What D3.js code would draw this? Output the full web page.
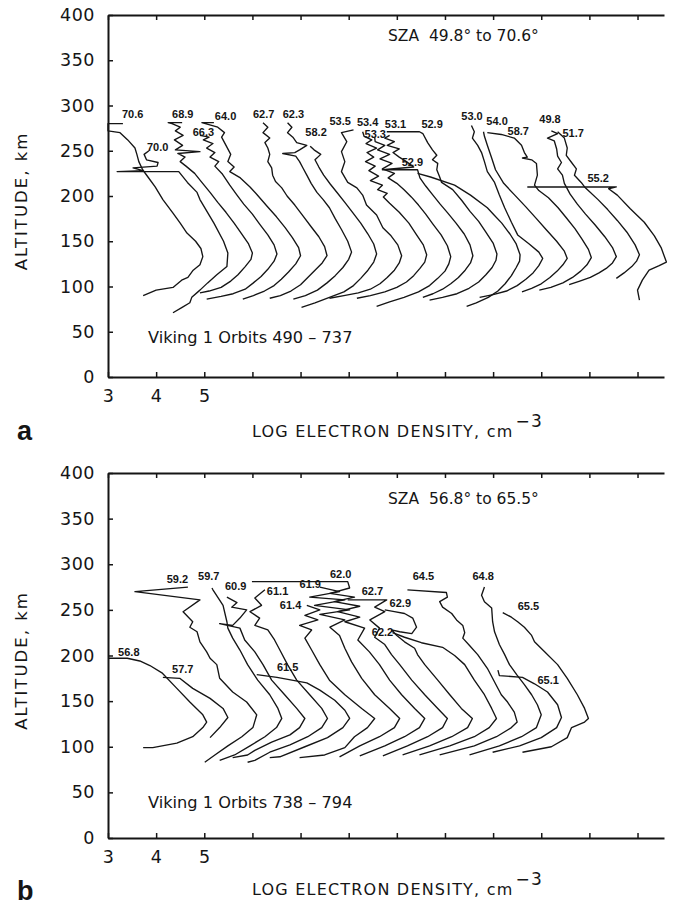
<!DOCTYPE html>
<html>
<head>
<meta charset="utf-8">
<script src="https://cdn.jsdelivr.net/npm/d3@7"></script>
<style>
  html, body { margin: 0; background: #fff; }
  svg { display: block; }
  text { fill: #151515; }
</style>
</head>
<body>
<svg id="fig" width="675" height="907"></svg>
<script>
// ---------- axes ----------
const xTicks = [3, 4, 5, 6, 7, 8, 9, 10, 11, 12, 13, 14];
const xTickLabels = { 3: "3", 4: "4", 5: "5" };
const altTicks = [0, 50, 100, 150, 200, 250, 300, 350, 400];

// ---------- panel a: Viking 1 orbits 490 - 737 ----------
// Each profile: [log10 electron density (cm^-3), altitude (km)], bottom to top.
// Successive profiles are shifted right by offsetsA (decades) for display.
const szaA = ["70.6", "70.0", "68.9", "66.3", "64.0", "62.7", "62.3", "58.2", "53.5", "53.4",
              "53.3", "53.1", "52.9", "52.9", "53.0", "54.0", "58.7", "49.8", "51.7", "55.2"];
const offsetsA = [0, 0.5, 1, 1.5, 2, 2.5, 3, 3.5, 4, 4.5, 5, 5.5, 6, 6.5, 7, 7.5, 8, 8.5, 9, 9.5];
const profilesA = [
  [[3.73,90],[4.0,96],[4.35,99],[4.53,107],[4.66,110],[4.77,118],[4.91,124],[4.97,133],[4.93,142],[4.82,150],[4.64,159],[4.5,170],[4.35,181],[4.14,196],[3.98,210],[3.83,221],[3.72,229],[3.64,238],[3.6,246],[3.56,253],[3.41,262],[3.25,270],[3.0,272],[3.0,280],[3.31,280]],
  [[3.85,71],[4.04,77],[4.2,82],[4.24,88],[4.41,96],[4.57,104],[4.76,113],[4.97,122],[4.99,137],[4.9,150],[4.7,170],[4.41,196],[4.35,204],[4.15,215],[3.97,227],[2.69,227],[3.23,228],[3.02,231],[3.52,233],[3.54,237],[3.3,240],[3.25,246],[3.35,250]],
  [[3.91,93],[4.1,95],[4.35,99],[4.55,106],[4.7,113],[4.85,122],[4.97,130],[5.0,137],[4.92,147],[4.78,158],[4.62,170],[4.45,182],[4.28,193],[4.12,204],[3.95,215],[3.8,225],[3.62,233],[3.5,238],[3.6,243],[3.45,247],[3.91,249],[3.4,251],[3.55,256],[3.38,262],[3.56,267],[3.4,272],[3.5,276],[3.33,280],[3.25,281],[3.54,281]],
  [[3.55,86],[3.85,89],[4.1,92],[4.35,97],[4.52,104],[4.68,111],[4.82,119],[4.95,128],[5.01,136],[4.95,146],[4.82,157],[4.65,169],[4.5,180],[4.32,191],[4.18,201],[4.03,212],[3.88,224],[3.72,233],[3.8,238],[3.62,243],[3.72,248],[3.55,253],[3.68,258],[3.48,262],[3.6,265],[3.41,267]],
  [[3.8,86],[4.02,90],[4.25,95],[4.45,101],[4.6,108],[4.75,116],[4.9,125],[5.0,134],[4.96,143],[4.83,154],[4.68,165],[4.5,177],[4.3,189],[4.12,200],[3.95,210],[3.75,220],[3.53,227],[3.62,232],[3.49,238],[3.55,246],[3.47,254],[3.36,265],[3.42,270],[3.28,276],[2.95,281],[3.2,281]],
  [[3.86,87],[4.08,90],[4.3,95],[4.5,102],[4.65,110],[4.8,118],[4.95,126],[5.05,134],[5.0,144],[4.88,155],[4.72,166],[4.55,178],[4.38,190],[4.22,200],[4.11,209],[3.98,216],[3.92,223],[3.9,231],[3.82,238],[3.86,246],[3.82,253],[3.76,259],[3.86,264],[3.72,270],[3.82,276],[3.72,281]],
  [[3.85,86],[4.1,90],[4.35,96],[4.55,104],[4.72,112],[4.88,121],[5.0,130],[5.06,138],[4.98,150],[4.85,163],[4.72,175],[4.6,187],[4.47,196],[4.34,204],[4.22,214],[4.13,223],[4.05,231],[3.98,238],[3.9,244],[3.63,247],[3.88,248],[3.98,251],[4.13,256],[3.92,259],[3.84,265],[3.73,270],[3.82,276],[3.73,281]],
  [[3.52,77],[3.8,82],[4.1,88],[4.4,94],[4.6,101],[4.75,109],[4.9,118],[5.02,127],[5.08,136],[5.02,147],[4.9,158],[4.75,170],[4.58,182],[4.42,193],[4.27,203],[4.12,213],[3.98,223],[3.88,232],[3.8,240],[3.92,246],[3.78,251],[3.7,255]],
  [[3.6,87],[3.9,90],[4.2,93],[4.45,97],[4.65,103],[4.8,110],[4.95,118],[5.05,126],[5.1,134],[5.02,146],[4.88,156],[4.71,165],[4.58,179],[4.37,190],[4.29,201],[4.17,209],[3.98,215],[3.85,227],[3.92,238],[3.85,249],[3.96,260],[3.85,270],[4.1,273]],
  [[3.67,87],[3.95,90],[4.25,94],[4.5,99],[4.7,105],[4.85,112],[4.98,120],[5.08,127],[5.12,135],[5.05,146],[4.9,158],[4.75,170],[4.55,182],[4.35,192],[4.22,199],[4.3,203],[4.1,207],[4.2,212],[3.95,217],[4.12,222],[3.92,228],[4.05,233],[3.85,238],[4.02,243],[3.88,248],[4.08,253],[3.86,258],[3.98,262],[3.82,266],[3.79,271]],
  [[3.58,78],[3.85,83],[4.15,88],[4.45,94],[4.68,101],[4.85,109],[5.0,117],[5.08,125],[5.12,133],[5.05,145],[4.92,157],[4.75,169],[4.6,180],[4.45,190],[4.3,199],[4.15,207],[4.0,214],[3.82,220],[3.95,225],[3.7,230],[3.9,236],[3.65,241],[3.85,246],[3.6,251],[3.75,256],[3.55,260],[3.54,265]],
  [[4.04,88],[4.25,92],[4.45,97],[4.62,103],[4.78,110],[4.92,118],[5.03,126],[5.08,134],[5.02,146],[4.9,158],[4.73,170],[4.56,181],[4.4,191],[4.25,201],[4.1,211],[3.98,220],[3.93,229],[3.2,229],[3.85,232],[3.7,238],[3.55,243],[3.42,248],[3.55,252],[3.3,256],[3.45,260],[3.25,264],[3.35,267]],
  [[3.68,85],[3.95,88],[4.25,92],[4.5,98],[4.7,105],[4.85,113],[4.98,121],[5.06,129],[5.08,136],[5.0,148],[4.85,160],[4.7,172],[4.52,183],[4.35,195],[4.16,207],[3.93,215],[3.89,221],[3.83,229],[3.85,236],[3.74,240],[3.83,245],[3.74,251],[3.64,259],[3.54,269],[3.47,271],[2.79,271]],
  [[3.95,78],[4.15,82],[4.4,88],[4.6,95],[4.75,103],[4.88,112],[4.98,121],[5.05,128],[5.06,135],[4.98,147],[4.85,158],[4.68,170],[4.52,179],[4.38,187],[4.03,201],[3.7,212],[3.2,221],[2.93,225]],
  [[3.72,88],[4.0,91],[4.28,95],[4.5,101],[4.68,108],[4.83,115],[4.95,123],[5.03,131],[4.95,138],[4.75,147],[4.51,157],[4.38,171],[4.24,187],[4.13,201],[4.03,215],[3.88,227],[3.82,238],[3.76,248],[3.68,256],[3.57,264],[3.61,271],[3.55,278]],
  [[4.1,94],[4.3,98],[4.5,103],[4.68,110],[4.83,117],[4.95,124],[5.04,131],[4.98,139],[4.82,150],[4.6,163],[4.4,175],[4.18,188],[3.95,201],[3.72,214],[3.55,229],[3.47,242],[3.38,256],[3.32,266],[3.3,271]],
  [[3.96,96],[4.2,99],[4.45,104],[4.65,110],[4.82,117],[4.95,124],[5.04,132],[4.98,141],[4.85,152],[4.7,164],[4.52,176],[4.35,187],[4.15,198],[3.95,206],[3.86,212],[3.92,223],[3.9,236],[3.8,240],[3.61,242],[3.71,243],[3.65,248],[3.59,256],[3.44,264],[3.17,268],[2.88,270]],
  [[4.08,102],[4.3,106],[4.52,110],[4.7,115],[4.85,120],[4.98,126],[5.06,133],[4.98,143],[4.82,155],[4.62,168],[4.42,180],[4.25,191],[4.1,202],[3.98,214],[3.94,223],[3.84,230],[3.92,237],[3.84,244],[3.82,252],[3.77,261],[3.63,264],[3.84,269],[3.71,272]],
  [[4.56,109],[4.72,115],[4.88,122],[4.98,128],[5.04,135],[4.95,146],[4.78,160],[4.58,173],[4.38,185],[4.18,196],[4.0,205],[3.9,210],[3.83,215],[3.69,223],[3.73,230],[3.63,237],[3.52,245],[3.54,253],[3.48,264],[3.34,271]],
  [[4.54,85],[4.5,96],[4.6,107],[4.74,118],[4.95,123],[5.1,127],[4.99,143],[4.85,156],[4.64,171],[4.35,186],[4.08,201],[3.9,208],[4.06,210],[2.21,210]]
];
// label anchors: [displayed log density, altitude] of each label's lower-left corner
const labelPosA = [[3.29,286],[3.81,250],[4.33,286],[4.76,266],[5.22,284],[6.01,286],[6.63,286],[7.1,266],[7.6,279],[8.17,277],
                   [8.33,264],[8.75,275],[9.51,275],[9.1,233],[10.34,284],[10.86,278],[11.3,267],[11.96,281],[12.44,265],[12.96,215]];

// ---------- panel b: Viking 1 orbits 738 - 794 ----------
const szaB = ["56.8", "57.7", "59.2", "59.7", "60.9", "61.1", "61.5", "61.4", "61.9",
              "62.0", "62.7", "62.9", "62.2", "64.5", "64.8", "65.1", "65.5"];
const offsetsB = [0, 0.5, 1, 1.5, 2, 2.5, 3, 3.5, 4, 4.5, 5, 5.5, 6, 6.5, 7, 7.5, 8];
const profilesB = [
  [[3.73,99],[3.93,99],[4.43,104],[4.76,111],[4.97,121],[5.05,127],[4.97,135],[4.7,149],[4.43,164],[4.12,181],[3.87,189],[3.66,194],[3.4,197],[3.0,197]],
  [[4.62,110],[4.82,121],[4.99,132],[4.89,142],[4.62,153],[4.26,164],[3.99,175],[3.64,176]],
  [[4.01,83],[4.22,91],[4.49,101],[4.78,111],[5.01,121],[5.09,135],[4.88,149],[4.59,160],[4.32,175],[4.26,190],[4.12,197],[4.05,204],[3.91,215],[3.85,226],[3.7,231],[3.76,237],[3.56,248],[3.91,261],[2.56,270],[3.66,275]],
  [[3.82,85],[4.13,91],[4.45,101],[4.76,111],[5.0,121],[5.11,131],[5.03,142],[4.86,157],[4.61,173],[4.4,190],[4.24,206],[4.09,219],[3.99,230],[3.97,237],[3.89,255],[3.68,272],[3.66,274]],
  [[3.59,88],[3.9,91],[4.05,96],[4.4,105],[4.78,113],[4.98,121],[5.09,131],[4.92,142],[4.67,157],[4.4,173],[4.22,190],[4.05,204],[3.84,217],[3.74,230],[3.32,235],[3.59,233],[3.74,241],[3.88,250],[3.57,253],[3.68,258],[3.47,264]],
  [[3.4,83],[3.55,85],[3.86,94],[4.28,102],[4.65,111],[4.94,121],[5.06,131],[4.94,142],[4.69,157],[4.42,173],[4.23,190],[4.07,206],[3.96,217],[3.82,228],[3.55,233],[3.65,241],[3.45,248],[3.69,255],[3.55,263],[3.76,272]],
  [[3.36,88],[3.57,89],[4.09,100],[4.56,110],[4.88,121],[5.02,131],[4.92,140],[4.71,151],[4.4,162],[4.13,170],[3.51,176],[3.09,179]],
  [[3.48,88],[4.0,91],[4.42,99],[4.62,111],[4.89,121],[5.04,131],[4.77,142],[4.42,157],[4.1,173],[3.9,190],[3.73,206],[3.59,219],[3.73,228],[3.48,233],[3.86,239],[3.59,244],[3.9,250],[3.63,255]],
  [[3.81,89],[4.23,101],[4.64,111],[4.95,121],[5.06,131],[4.85,142],[4.54,157],[4.27,175],[4.06,193],[3.92,208],[3.81,222],[3.61,231],[3.92,239],[3.4,245],[4.02,250],[3.29,255],[3.92,261],[3.19,264],[3.81,270],[3.4,275]],
  [[3.73,90],[4.25,101],[4.66,111],[4.97,121],[5.08,131],[4.87,142],[4.6,157],[4.35,173],[4.14,190],[3.93,204],[3.69,217],[3.83,230],[3.42,237],[3.73,242],[3.27,248],[3.73,254],[3.2,259],[3.62,264],[3.11,268],[3.52,274],[3.48,281],[1.49,281]],
  [[3.71,90],[4.22,101],[4.64,111],[4.95,121],[5.05,131],[4.85,142],[4.58,157],[4.31,173],[4.06,190],[3.89,201],[3.75,212],[3.54,220],[3.64,230],[3.44,239],[3.75,248],[3.54,253],[3.79,261],[2.98,261]],
  [[3.62,91],[4.18,101],[4.64,111],[4.97,121],[5.07,131],[4.84,142],[4.6,157],[4.35,173],[4.08,190],[3.93,201],[3.87,208],[3.66,215],[3.5,222],[3.39,228],[3.56,226],[3.81,224],[3.91,231],[3.83,241],[3.66,246],[3.45,248],[3.25,250]],
  [[3.47,91],[4.1,101],[4.61,111],[4.92,121],[5.07,131],[4.97,142],[4.82,157],[4.61,173],[4.41,190],[4.2,200],[3.95,209],[3.51,214],[3.16,220],[2.91,225]],
  [[3.39,91],[4.11,101],[4.57,111],[4.88,121],[5.0,127],[4.94,138],[4.8,149],[4.67,157],[4.53,171],[4.38,186],[4.18,201],[4.01,211],[3.87,219],[3.91,225],[3.87,233],[3.74,239],[3.64,246],[3.45,253],[3.39,259],[3.55,264],[3.53,269],[2.72,272]],
  [[3.51,91],[4.13,101],[4.59,111],[4.9,121],[5.0,135],[4.92,146],[4.8,157],[4.65,168],[4.49,179],[4.34,190],[4.24,201],[4.13,212],[4.03,226],[3.99,237],[3.97,252],[3.82,259],[3.76,266],[3.82,275]],
  [[3.49,94],[4.05,101],[4.5,110],[4.82,121],[4.92,132],[4.84,146],[4.63,160],[4.36,169],[4.11,176],[3.63,178],[3.6,184]],
  [[3.61,94],[4.21,100],[4.54,110],[4.63,121],[4.9,127],[4.98,131],[4.9,142],[4.75,157],[4.54,175],[4.34,190],[4.07,204],[3.86,215],[3.8,222],[3.65,231],[3.51,237],[3.38,242],[3.2,247]]
];
const labelPosB = [[3.21,200],[4.33,181],[4.22,280],[4.87,283],[5.43,272],[6.3,266],[6.51,183],[6.57,251],[6.98,274],
                   [7.61,285],[8.27,266],[8.85,253],[8.48,221],[9.33,283],[10.57,283],[11.92,169],[11.51,250]];

// ---------- drawing ----------
const svg = d3.select("#fig");
const ink = "#151515";
const x = d3.scaleLinear().domain([3, 14.55]).range([108, 664]);
const sans = "'DejaVu Sans', Verdana, sans-serif";

function drawPanel(p) {
  const y = d3.scaleLinear().domain([0, 400]).range([p.bottom, p.top]);
  const g = svg.append("g");

  // profiles, each shifted by its display offset
  const line = d3.line().x(d => x(d[0])).y(d => y(d[1]));
  g.append("g")
    .selectAll("path")
    .data(p.profiles.map((prof, i) => prof.map(([n, a]) => [n + p.offsets[i], a])))
    .join("path")
    .attr("d", line)
    .attr("fill", "none")
    .attr("stroke", ink)
    .attr("stroke-width", 1.35)
    .attr("stroke-linejoin", "round");

  // solar zenith angle of each profile
  g.append("g")
    .selectAll("text")
    .data(p.sza)
    .join("text")
    .attr("x", (d, i) => x(p.labelPos[i][0]))
    .attr("y", (d, i) => y(p.labelPos[i][1]))
    .attr("font-family", "'Liberation Sans', Arial, sans-serif")
    .attr("font-weight", "bold")
    .attr("font-size", 11)
    .text(d => d);

  // axes: ticks point inward, top edge repeats the x ticks
  const bottomAxis = d3.axisBottom(x).tickValues(xTicks)
    .tickSize(-5).tickSizeOuter(0).tickPadding(13)
    .tickFormat(d => xTickLabels[d] || "");
  const topAxis = d3.axisTop(x).tickValues(xTicks)
    .tickSize(-5).tickSizeOuter(0).tickFormat("");
  const leftAxis = d3.axisLeft(y).tickValues(altTicks)
    .tickSize(-5).tickSizeOuter(0).tickPadding(13);

  const styleAxis = sel => {
    sel.select(".domain").attr("stroke", ink).attr("stroke-width", 2);
    sel.selectAll(".tick line").attr("stroke", ink).attr("stroke-width", 1.5);
    sel.selectAll("text").attr("font-family", sans).attr("font-size", 17.5)
      .attr("fill", ink).attr("letter-spacing", 0.5);
  };
  g.append("g").attr("transform", `translate(0,${p.bottom})`).call(bottomAxis).call(styleAxis);
  g.append("g").attr("transform", `translate(0,${p.top})`).call(topAxis).call(styleAxis);
  g.append("g").attr("transform", `translate(${x(3)},0)`).call(leftAxis).call(styleAxis);

  // titles and notes
  g.append("text")
    .attr("transform", `translate(27,${(p.top + p.bottom) / 2 + 5}) rotate(-90)`)
    .attr("text-anchor", "middle")
    .attr("font-family", sans).attr("font-size", 16.5).attr("letter-spacing", 2)
    .text("ALTITUDE, km");

  const xl = g.append("text")
    .attr("x", 252).attr("y", p.bottom + p.xLabelDrop)
    .attr("font-family", sans).attr("font-size", 16).attr("letter-spacing", 1.2);
  xl.append("tspan").text("LOG ELECTRON DENSITY, cm");
  xl.append("tspan").attr("dy", -10).attr("dx", 2).attr("font-size", 17).text("\u22123");

  g.append("text")
    .attr("x", 17).attr("y", p.bottom + p.letterDrop)
    .attr("font-family", "'Liberation Sans', Arial, sans-serif")
    .attr("font-weight", "bold").attr("font-size", 27)
    .text(p.letter);

  g.append("text")
    .attr("x", 388).attr("y", y(p.szaAlt))
    .attr("font-family", sans).attr("font-size", 15.5)
    .style("white-space", "pre")
    .text(p.szaRange);

  g.append("text")
    .attr("x", x(3.83)).attr("y", y(p.orbitAlt))
    .attr("font-family", sans).attr("font-size", 16.2)
    .text(p.orbits);
}

drawPanel({
  top: 15, bottom: 377, profiles: profilesA, offsets: offsetsA, sza: szaA, labelPos: labelPosA,
  letter: "a", szaRange: "SZA  49.8\u00b0 to 70.6\u00b0", orbits: "Viking 1 Orbits 490 \u2013 737",
  szaAlt: 371, orbitAlt: 38, xLabelDrop: 60, letterDrop: 63
});
drawPanel({
  top: 473, bottom: 838, profiles: profilesB, offsets: offsetsB, sza: szaB, labelPos: labelPosB,
  letter: "b", szaRange: "SZA  56.8\u00b0 to 65.5\u00b0", orbits: "Viking 1 Orbits 738 \u2013 794",
  szaAlt: 366, orbitAlt: 33, xLabelDrop: 57, letterDrop: 62
});
</script>
</body>
</html>
